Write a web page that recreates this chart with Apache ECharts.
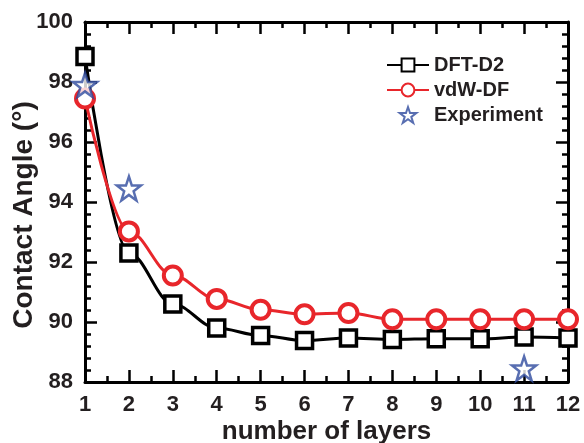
<!DOCTYPE html>
<html><head><meta charset="utf-8">
<script src="https://cdn.jsdelivr.net/npm/echarts@6/dist/echarts.min.js"></script>
<style>html,body{margin:0;padding:0;background:#fff}#c{width:584px;height:443px}</style>
</head><body><div id="c"></div>
<script>
const layers = [1,2,3,4,5,6,7,8,9,10,11,12];
const dftD2 = [98.85,92.3,90.6,89.8,89.55,89.38,89.47,89.42,89.44,89.44,89.5,89.47];
const vdwDF = [97.45,93.02,91.55,90.77,90.41,90.26,90.3,90.09,90.09,90.09,90.09,90.09];
const expLayers = [1,2,11];
const expValues = [97.9,94.45,88.45];
const xTicks = {min:1,max:12,interval:1};
const yTicks = {min:88,max:100,interval:2};

const TXT = '#231f20';
const FONT = '"Liberation Sans", Arial, sans-serif';
const STAR = 'path://M50,2 L61.5,36 L97,36 L68.5,57.5 L79.5,92 L50,71 L20.5,92 L31.5,57.5 L3,36 L38.5,36 Z';

function makeAxis(kind, pos, showLabel, minorSplit, extra){
  const r = kind === 'x' ? xTicks : yTicks;
  return Object.assign({
    type:'value', position:pos, min:r.min, max:r.max, interval:r.interval,
    nameMoveOverlap:false,
    axisLine:{show:true,onZero:false,lineStyle:{color:'#000',width:3}},
    axisTick:{show:true,inside:true,length:12,lineStyle:{color:'#000',width:2.5}},
    minorTick:{show:true,splitNumber:minorSplit,length:6,lineStyle:{color:'#000',width:2.5}},
    splitLine:{show:false},
    minorSplitLine:{show:false},
    axisLabel:{show:showLabel,color:TXT,fontFamily:FONT,fontWeight:'bold',fontSize:22,margin:12}
  }, extra || {});
}

const chart = echarts.init(document.getElementById('c'), null, {renderer:'canvas'});
chart.setOption({
  animation:false,
  backgroundColor:'#fff',
  grid:{left:85,right:16,top:22,bottom:61,containLabel:false,outerBoundsMode:'none'},
  xAxis:[
    makeAxis('x','bottom',true,2,{name:'number of layers',nameLocation:'middle',nameGap:37,
      nameTextStyle:{color:TXT,fontFamily:FONT,fontWeight:'bold',fontSize:26}}),
    makeAxis('x','top',false,2)
  ],
  yAxis:[
    makeAxis('y','left',true,5,{name:'Contact Angle (°)',nameLocation:'middle',nameGap:47,
      nameTextStyle:{color:TXT,fontFamily:FONT,fontWeight:'bold',fontSize:28,padding:[0,26,0,0]}}),
    makeAxis('y','right',false,5)
  ],
  legend:{
    orient:'vertical',left:381,top:50,itemWidth:42,itemHeight:16,itemGap:5,
    textStyle:{color:TXT,fontFamily:FONT,fontWeight:'bold',fontSize:20},
    data:['DFT-D2','vdW-DF','Experiment']
  },
  series:[
    {name:'DFT-D2',type:'line',smooth:0.35,smoothMonotone:'x',
     data:layers.map((x,i)=>[x,dftD2[i]]),
     symbol:'rect',symbolSize:16,
     lineStyle:{color:'#000',width:3},
     itemStyle:{color:'#fff',borderColor:'#000',borderWidth:3.5},z:3},
    {name:'vdW-DF',type:'line',smooth:0.35,smoothMonotone:'x',
     data:layers.map((x,i)=>[x,vdwDF[i]]),
     symbol:'circle',symbolSize:18,
     lineStyle:{color:'#e8262b',width:3},
     itemStyle:{color:'#fff',borderColor:'#e8262b',borderWidth:4},z:4},
    {name:'Experiment',type:'scatter',
     data:expLayers.map((x,i)=>[x,expValues[i]]),
     symbol:STAR,symbolSize:24,
     itemStyle:{color:'#fff',borderColor:'#2e4a9e',borderWidth:2.5},z:5}
  ]
});
</script></body></html>
